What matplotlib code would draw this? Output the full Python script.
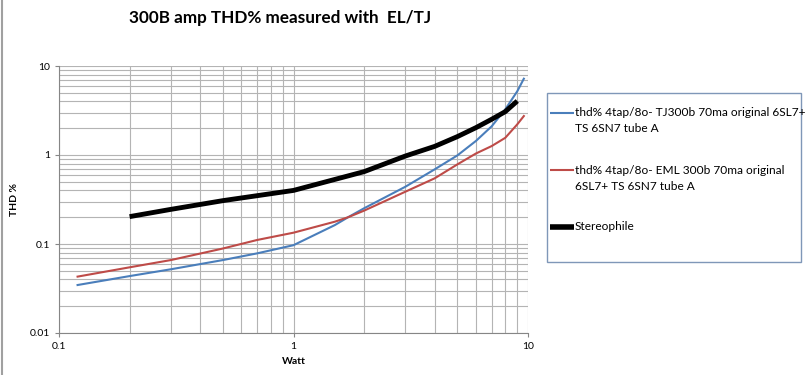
import matplotlib
matplotlib.use("Agg")
import matplotlib.pyplot as plt
from matplotlib.patches import Rectangle
from matplotlib.lines import Line2D

plt.rcParams['font.family'] = ['Lato', 'DejaVu Sans']

# data
tj_watt = [0.12, 0.2, 0.3, 0.5, 0.7, 1.0, 1.5, 1.71, 2.0, 3.0, 4.0, 5.0, 6.0, 7.0, 8.0, 9.0, 9.6]
tj_thd = [0.0346, 0.0436, 0.052, 0.066, 0.0785, 0.097, 0.163, 0.2, 0.252, 0.44, 0.69, 0.99, 1.44, 2.1, 3.26, 5.2, 7.2]

eml_watt = [0.12, 0.2, 0.3, 0.5, 0.7, 1.0, 1.5, 1.71, 2.0, 3.0, 4.0, 5.0, 6.0, 7.0, 8.0, 9.0, 9.6]
eml_thd = [0.043, 0.0547, 0.066, 0.089, 0.111, 0.134, 0.178, 0.2, 0.237, 0.387, 0.547, 0.785, 1.04, 1.26, 1.56, 2.21, 2.74]

stereo_watt = [0.2, 0.3, 0.5, 1.0, 2.0, 3.0, 4.0, 5.0, 6.0, 7.0, 8.0, 9.0]
stereo_thd = [0.203, 0.245, 0.307, 0.40, 0.65, 0.974, 1.25, 1.61, 2.03, 2.52, 3.07, 4.04]

labels = [["thd% 4tap/8o- TJ300b 70ma original 6SL7+", "TS 6SN7 tube A"],
          ["thd% 4tap/8o- EML 300b 70ma original", "6SL7+ TS 6SN7 tube A"],
          ["Stereophile"]]
colors = ["#4a7ebb", "#be4b48", "black"]
widths = [1.5, 1.5, 3.5]

W, H = 809, 375
fig = plt.figure(figsize=(W / 100, H / 100), dpi=100)
ax = fig.add_axes([59 / W, 1 - 333 / H, (528 - 59) / W, (333 - 66) / H])

ax.plot(tj_watt, tj_thd, color=colors[0], lw=widths[0])
ax.plot(eml_watt, eml_thd, color=colors[1], lw=widths[1])
ax.plot(stereo_watt, stereo_thd, color=colors[2], lw=widths[2], solid_capstyle="butt")

ax.set_xscale("log")
ax.set_yscale("log")
ax.set_xlim(0.1, 10)
ax.set_ylim(0.01, 10)
ax.set_xticks([0.1, 1, 10])
ax.set_xticklabels(["0.1", "1", "10"])
ax.set_yticks([0.01, 0.1, 1, 10])
ax.set_yticklabels(["0.01", "0.1", "1", "10"])
ax.grid(True, which="both", color="#b4b4b4", lw=0.8)
ax.set_axisbelow(True)
ax.tick_params(which="both", labelsize=7.5, colors="#868686", labelcolor="black", length=3)
ax.tick_params(which="minor", length=0)
for s in ["top", "right"]:
    ax.spines[s].set_visible(False)
for s in ["left", "bottom"]:
    ax.spines[s].set_color("#868686")

ax.set_xlabel("Watt", fontsize=7.5, fontweight="bold", labelpad=4)
ax.set_ylabel("THD %", fontsize=7.5, fontweight="bold", labelpad=8)

fig.text(280 / W, 1 - 18 / H, "300B amp THD% measured with  EL/TJ",
         ha="center", va="center", fontsize=12.3, fontweight="bold")

# legend box, drawn like the Excel one (handle on the first text line)
fig.patches.append(Rectangle((547 / W, 1 - 262 / H), (801 - 547) / W, (262 - 93) / H,
                             transform=fig.transFigure, fill=False,
                             edgecolor="#7f97b8", lw=1))
entry_y = [113, 170, 227]
for lab, c, lw, y in zip(labels, colors, widths, entry_y):
    fig.add_artist(Line2D([550 / W, 574 / W], [1 - y / H, 1 - y / H], color=c,
                          lw=lw if lw < 3 else 4, solid_capstyle="butt"))
    for i, line in enumerate(lab):
        fig.text(575 / W, 1 - (y + 16 * i) / H, line, ha="left", va="center", fontsize=8.6)

# chart area left border
fig.add_artist(Line2D([1.5 / W, 1.5 / W], [0, 1], color="#a0a0a0", lw=1.5))

fig.savefig("out.png", dpi=100)
